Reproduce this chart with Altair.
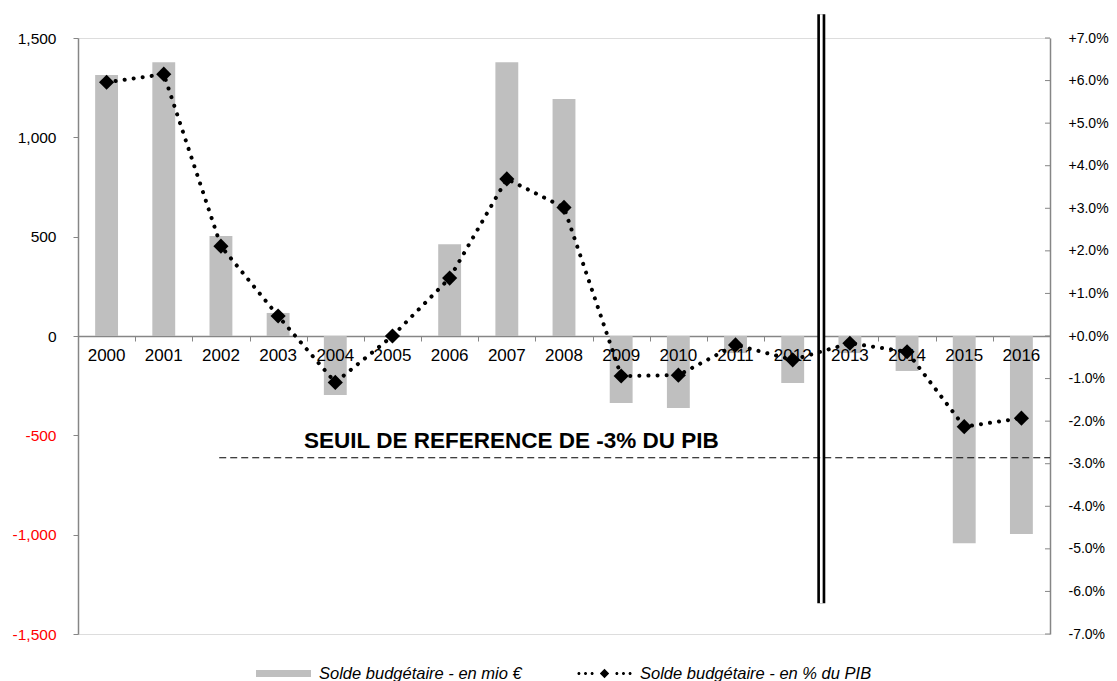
import altair as alt
import pandas as pd

# ---------------- data ----------------
years = ["2000", "2001", "2002", "2003", "2004", "2005", "2006", "2007", "2008",
         "2009", "2010", "2011", "2012", "2013", "2014", "2015", "2016"]
solde_mio = [1314, 1378, 503, 116, -297, 0, 462, 1378, 1193,
             -337, -362, -86, -237, -86, -176, -1043, -997]
solde_pct = [5.96, 6.15, 2.11, 0.47, -1.09, 0.0, 1.36, 3.69, 3.02,
             -0.94, -0.92, -0.21, -0.56, -0.17, -0.37, -2.13, -1.93]

left_ticks = [-1500, -1000, -500, 0, 500, 1000, 1500]
right_ticks = [-7, -6, -5, -4, -3, -2, -1, 0, 1, 2, 3, 4, 5, 6, 7]

label_bar = "Solde budgétaire - en mio €"
label_line = "Solde budgétaire - en % du PIB"
series_labels = [label_bar, label_line]

divider_after = ["2012"]
divider_top = [1620]
divider_bottom = [-1345]

threshold_start = ["2002"]
threshold_pct = [-2.86]
threshold_text = ["SEUIL DE REFERENCE DE -3% DU PIB"]
threshold_text_year = ["2007"]
threshold_text_pct = [-2.47]

# ---------------- styling ----------------
W, H = 972, 596
FONT = "Liberation Sans"
AX = "#868686"
BAR = "#bfbfbf"

df = pd.DataFrame({"year": years, "mio": solde_mio, "pct": solde_pct})
div_df = pd.DataFrame({"year": divider_after, "top": divider_top, "bottom": divider_bottom})
thr_df = pd.DataFrame({"year": threshold_start, "pct": threshold_pct})
txt_df = pd.DataFrame({"year": threshold_text_year, "pct": threshold_text_pct, "t": threshold_text})
rt_df = pd.DataFrame({"pct": right_ticks})
leg_df = pd.DataFrame({"series": series_labels})


def xenc(bp=0.5):
    return alt.X(
        "year:N", sort=years, bandPosition=bp,
        scale=alt.Scale(domain=years, paddingInner=0, paddingOuter=0),
        axis=alt.Axis(title=None, orient="bottom", offset=-H / 2, tickBand="extent",
                      labels=False, domainColor=AX, domainWidth=1.5, tickColor=AX,
                      tickSize=5, tickWidth=1),
    )


left_axis = alt.Axis(
    title=None, orient="left", values=left_ticks,
    labelExpr="(datum.value < 0 ? '-' : '') + format(abs(datum.value), ',')",
    labelColor=alt.condition("datum.value < 0", alt.value("#ff0000"), alt.value("#000000")),
    labelFontSize=15.5, labelFont=FONT, domainColor=AX, domainWidth=1.5,
    tickColor=AX, tickSize=5, labelPadding=17, grid=False,
)
yl_scale = alt.Scale(domain=[-1500, 1500], nice=False, zero=False)

right_axis = alt.Axis(
    title=None, orient="right", values=right_ticks,
    labelExpr="(datum.value < 0 ? '-' : '+') + format(abs(datum.value), '.1f') + '%'",
    labelFontSize=14, labelFont=FONT, labelColor="#000000", domainColor=AX,
    domainWidth=1.5, ticks=False, labelPadding=18, grid=False,
)
yr_scale = alt.Scale(domain=[-7, 7], nice=False, zero=False)

bar_sym = "M-1,-0.13H1V0.13H-1Z"


def dot(cx, r=0.055):
    return f"M{cx - r:.3f},0a{r},{r} 0 1,0 {2 * r:.3f},0a{r},{r} 0 1,0 {-2 * r:.3f},0Z"


line_sym = (dot(-0.93) + dot(-0.69) + dot(-0.45) +
            "M-0.17,0L0,-0.17L0.17,0L0,0.17Z" + dot(0.45) + dot(0.69) + dot(0.93))

legend = alt.Legend(
    title=None, orient="none", legendX=178, legendY=608, direction="horizontal",
    symbolSize=3025, labelFontSize=16.5, labelFontStyle="italic", labelFont=FONT,
    labelColor="#000000", labelOffset=8, columnPadding=55, padding=0, labelLimit=400,
    symbolOpacity=1, symbolStrokeWidth=0,
)

bars = alt.Chart(df).mark_bar(width={"band": 0.4}, color=BAR).encode(
    x=xenc(),
    y=alt.Y("mio:Q", scale=yl_scale, axis=left_axis),
)

legend_layer = alt.Chart(leg_df).mark_point(filled=True, opacity=0).encode(
    color=alt.Color("series:N", scale=alt.Scale(domain=series_labels, range=[BAR, "#000000"]),
                    legend=legend),
    shape=alt.Shape("series:N", scale=alt.Scale(domain=series_labels, range=[bar_sym, line_sym]),
                    legend=legend),
)

div_black = alt.Chart(div_df).mark_rule(color="#000000", strokeWidth=8).encode(
    x=xenc(1), y=alt.Y("top:Q", scale=yl_scale, axis=left_axis), y2="bottom:Q")
div_white = alt.Chart(div_df).mark_rule(color="#ffffff", strokeWidth=2.7).encode(
    x=xenc(1), y=alt.Y("top:Q", scale=yl_scale, axis=left_axis), y2="bottom:Q")

year_labels = alt.Chart(df).mark_text(
    fontSize=17, font=FONT, color="#000000", align="center", baseline="middle", dy=20
).encode(
    x=xenc(),
    y=alt.Y(datum=0, type="quantitative", scale=yl_scale, axis=left_axis),
    text="year:N",
)

left = alt.layer(bars, div_black, div_white, year_labels, legend_layer)

thr = alt.Chart(thr_df).mark_rule(color="#000000", strokeWidth=1, strokeDash=[7, 4]).encode(
    x=xenc(0.47), x2=alt.value("width"),
    y=alt.Y("pct:Q", scale=yr_scale, axis=right_axis))
txt = alt.Chart(txt_df).mark_text(fontSize=22.5, fontWeight="bold", font=FONT,
                                  align="center", baseline="middle", color="#000000").encode(
    x=xenc(0.58), y=alt.Y("pct:Q", scale=yr_scale, axis=right_axis), text="t:N")
line = alt.Chart(df).mark_line(color="#000000", strokeWidth=4, strokeDash=[0.1, 9],
                               strokeCap="round").encode(
    x=xenc(), y=alt.Y("pct:Q", scale=yr_scale, axis=right_axis))
pts = alt.Chart(df).mark_point(shape="diamond", filled=True, size=230, color="#000000",
                               opacity=1).encode(
    x=xenc(), y=alt.Y("pct:Q", scale=yr_scale, axis=right_axis))
rticks = alt.Chart(rt_df).mark_rule(color=AX, strokeWidth=1).encode(
    x=alt.value({"expr": "width - 5"}), x2=alt.value("width"),
    y=alt.Y("pct:Q", scale=yr_scale, axis=right_axis))

right = alt.layer(thr, txt, line, pts, rticks)

chart = alt.layer(left, right).resolve_scale(y="independent").properties(
    width=W, height=H,
    autosize=alt.AutoSizeParams(type="none"),
    padding={"left": 70, "top": 30, "right": 59, "bottom": 60},
).configure_view(stroke=None).configure(background="#ffffff")

chart.save("out.html", embed_options={"renderer": "svg", "actions": False})
